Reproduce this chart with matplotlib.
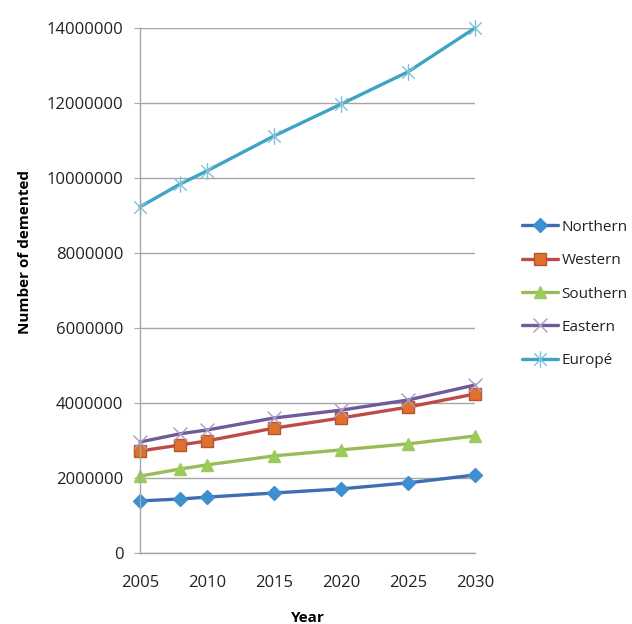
import matplotlib
matplotlib.use("Agg")
import matplotlib.pyplot as plt
from matplotlib.path import Path

plt.rcParams['font.family'] = ['Open Sans', 'DejaVu Sans']

years = [2005, 2008, 2010, 2015, 2020, 2025, 2030]
northern = [1390000, 1440000, 1490000, 1600000, 1710000, 1870000, 2080000]
western = [2720000, 2880000, 2990000, 3330000, 3600000, 3890000, 4240000]
southern = [2050000, 2240000, 2350000, 2590000, 2750000, 2910000, 3120000]
eastern = [2960000, 3180000, 3280000, 3600000, 3810000, 4080000, 4480000]
europe = [9230000, 9840000, 10190000, 11120000, 11970000, 12830000, 14000000]
series_names = ["Northern", "Western", "Southern", "Eastern", "Europé"]
y_ticks = [0, 2000000, 4000000, 6000000, 8000000, 10000000, 12000000, 14000000]
x_ticks = [2005, 2010, 2015, 2020, 2025, 2030]

star = Path([(0, -1), (0, 1), (-0.75, -0.75), (0.75, 0.75), (-0.75, 0.75), (0.75, -0.75)],
            [Path.MOVETO, Path.LINETO, Path.MOVETO, Path.LINETO, Path.MOVETO, Path.LINETO])
xmark = Path([(-0.75, -0.75), (0.75, 0.75), (-0.75, 0.75), (0.75, -0.75)],
             [Path.MOVETO, Path.LINETO, Path.MOVETO, Path.LINETO])

styles = [
    dict(color="#3F6DB0", marker="D", ms=7, mfc="#3D8FD0", mec="#3D8FD0"),
    dict(color="#BE4B48", marker="s", ms=9, mfc="#E0702E", mec="#B5562E"),
    dict(color="#9BBB59", marker="^", ms=9, mfc="#9BCB5A", mec="#9BCB5A"),
    dict(color="#6F5A9A", marker=xmark, ms=10, mfc="none", mec="#A89CC8", mew=1.0),
    dict(color="#3FA3C4", marker=star, ms=12, mfc="none", mec="#7CC3D8", mew=1.0),
]

fig = plt.figure(figsize=(6.32, 6.24), dpi=100)
ax = fig.add_axes([140 / 632, (624 - 553) / 624, (475 - 140) / 632, (553 - 28) / 624])

for name, vals, st in zip(series_names, [northern, western, southern, eastern, europe], styles):
    ax.plot(years, vals, lw=2.4, label=name, solid_capstyle="round", **st)

ax.set_xlim(2005, 2030)
ax.set_ylim(0, 14000000)
ax.set_yticks(y_ticks)
ax.set_yticklabels([str(v) for v in y_ticks])
ax.set_xticks(x_ticks)
ax.set_xticklabels([str(v) for v in x_ticks])
ax.yaxis.grid(True, color="#A6A6A6", lw=1.0)
ax.set_axisbelow(True)
for s in ["top", "right"]:
    ax.spines[s].set_visible(False)
for s in ["left", "bottom"]:
    ax.spines[s].set_color("#A6A6A6")
    ax.spines[s].set_linewidth(1.0)
ax.tick_params(axis="y", length=4, color="#A6A6A6", labelsize=12, labelcolor="#222222", pad=8)
ax.tick_params(axis="x", length=0, labelsize=12, labelcolor="#222222", pad=16)
for lbl in ax.get_xticklabels() + ax.get_yticklabels():
    lbl.set_clip_on(False)

ax.set_ylabel("Number of demented", fontsize=11, fontweight="bold")
ax.set_xlabel("Year", fontsize=11, fontweight="bold")
ax.yaxis.set_label_coords(25 / 632, (624 - 252) / 624, transform=fig.transFigure)
ax.xaxis.set_label_coords(308 / 632, (624 - 618) / 624, transform=fig.transFigure)
ax.yaxis.label.set_verticalalignment("center")
ax.xaxis.label.set_verticalalignment("center")

leg = ax.legend(loc="center left", bbox_to_anchor=(508 / 632, (624 - 294) / 624), bbox_transform=fig.transFigure,
                frameon=False, fontsize=11, handlelength=2.4, labelspacing=1.2, handletextpad=0.2)
for t in leg.get_texts():
    t.set_color("#222222")
for ln in ax.get_lines():
    ln.set_clip_on(False)

fig.savefig("out.png", dpi=100)
